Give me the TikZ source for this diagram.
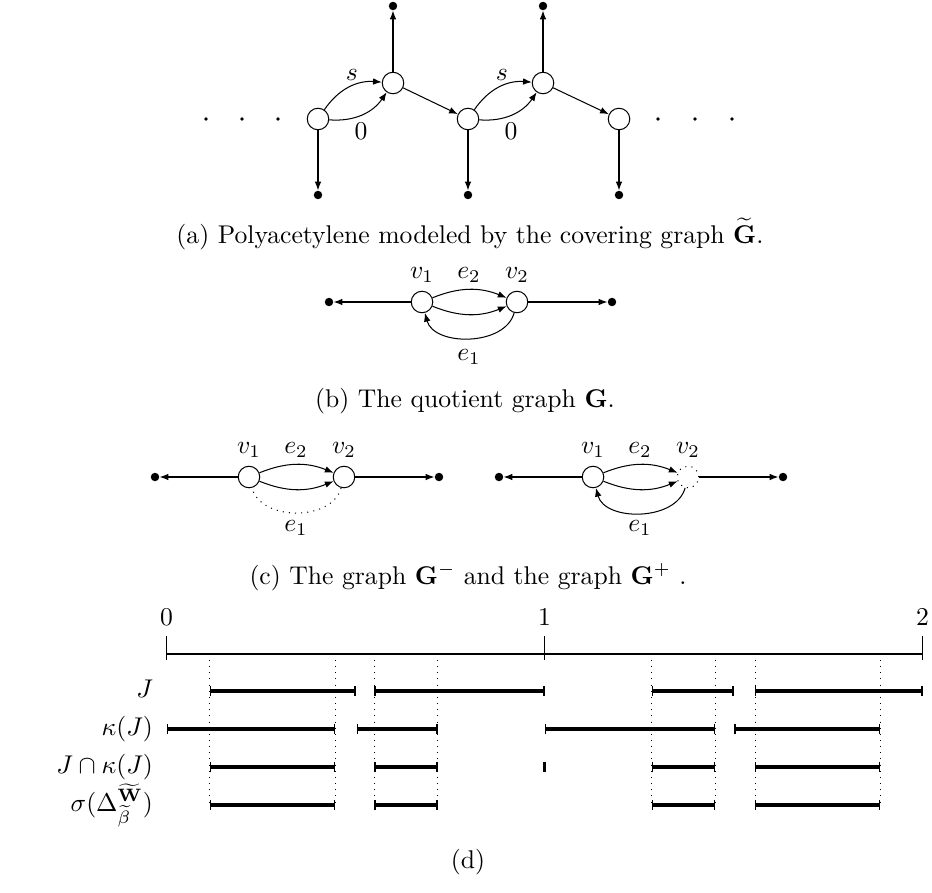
\documentclass[tikz,border=0pt]{standalone}
\usepackage{amsmath, amssymb}
\usepackage{tikz}
\usetikzlibrary{arrows.meta, positioning}
\tikzset{>={Latex[length=3.4pt,width=2.6pt]}}
\tikzset{
  vtx/.style={circle, draw, inner sep=0pt, minimum size=8.4pt},
  sink/.style={circle, fill, inner sep=0pt, minimum size=3.3pt},
  ivl/.style={line width=1.4pt, {Bar[width=4pt,line width=0.5pt]}-{Bar[width=4pt,line width=0.5pt]}},
}

\begin{document}
\begin{tikzpicture}[x=0.39pt, y=-0.39pt]
\useasboundingbox (0,0) rectangle (932,892);

% (a) covering graph
\foreach \i/\x in {1/318,2/468,3/619} {
    \node[vtx] (b\i) at (\x,119) {};
    \node[sink] (bd\i) at (\x,195) {};
    \draw[->] (b\i) -- (bd\i);
}
\foreach \i/\x in {1/393,2/543} {
    \node[vtx] (t\i) at (\x,83) {};
    \node[sink] (td\i) at (\x,6) {};
    \draw[->] (t\i) -- (td\i);
}
\foreach \i/\j in {1/2,2/3} {
    \draw[->] (b\i) to[bend left=30] (t\i);
    \draw[->] (b\i) to[bend right=30] (t\i);
    \draw[->] (t\i) -- (b\j);
}
\node (s1) at (352,75) {$s$};
\node (s2) at (502,75) {$s$};
\node (z1) at (361,131) {$0$};
\node (z2) at (511,131) {$0$};
\foreach \x in {206,242,278,658,695,732}
    \fill (\x,119) circle (0.7pt);
\node (capa) at (470,234) {(a) Polyacetylene modeled by the covering graph $\widetilde{\mathbf{G}}$.};

% (b) quotient graph
\node[sink] (bl) at (329,302) {};
\node[vtx] (bv1) at (422,302) {};
\node[vtx] (bv2) at (517,302) {};
\node[sink] (br) at (612,302) {};
\draw[->] (bv1) -- (bl);
\draw[->] (bv2) -- (br);
\draw[->] (bv1) to[bend left=22] (bv2);
\draw[->] (bv1) to[bend right=22] (bv2);
\draw[->] (bv2) to[out=-105,in=-75] (bv1);
\node (bv1l) at (422,275) {$v_1$};
\node (be2l) at (469,275) {$e_2$};
\node (bv2l) at (517,275) {$v_2$};
\node (be1l) at (469,357) {$e_1$};
\node (capb) at (465,401) {(b) The quotient graph $\mathbf{G}$.};

% (c) G minus and G plus
\node[sink] (ml) at (155,477) {};
\node[vtx] (mv1) at (249,477) {};
\node[vtx] (mv2) at (344,477) {};
\node[sink] (mr) at (439,477) {};
\draw[->] (mv1) -- (ml);
\draw[->] (mv2) -- (mr);
\draw[->] (mv1) to[bend left=22] (mv2);
\draw[->] (mv1) to[bend right=22] (mv2);
\draw[dotted] (mv2) to[out=-105,in=-75] (mv1);
\node (mv1l) at (249,450) {$v_1$};
\node (me2l) at (296,450) {$e_2$};
\node (mv2l) at (344,450) {$v_2$};
\node (me1l) at (296,528) {$e_1$};

\node[sink] (pl) at (499,477) {};
\node[vtx] (pv1) at (593,477) {};
\node[vtx, dotted] (pv2) at (688,477) {};
\node[sink] (pr) at (783,477) {};
\draw[->] (pv1) -- (pl);
\draw[->] (pv2) -- (pr);
\draw[->] (pv1) to[bend left=22] (pv2);
\draw[->] (pv1) to[bend right=22] (pv2);
\draw[->] (pv2) to[out=-105,in=-75] (pv1);
\node (pv1l) at (593,450) {$v_1$};
\node (pe2l) at (640,450) {$e_2$};
\node (pv2l) at (688,450) {$v_2$};
\node (pe1l) at (640,528) {$e_1$};
\node (capc) at (468,577) {(c) The graph $\mathbf{G}^-$ and the graph $\mathbf{G}^+$ .};

% (d) intervals
\node[anchor=base east] (rj) at (162,697) {$J$};
\node[anchor=base east] (rk) at (162,735) {$\kappa(J)$};
\node[anchor=base east] (rjk) at (162,773) {$J\cap\kappa(J)$};
\node[anchor=base east] (rs) at (162,811) {$\sigma(\Delta^{\widetilde{\mathbf{W}}}_{\widetilde{\beta}})$};
\begin{scope}[shift={(166.5,0)}, x=147.42pt]
\draw (0,654) -- (2,654);
\foreach \v in {0,1,2} {
    \draw (\v,636) -- (\v,660);
    \node (lab\v) at (\v,617) {$\v$};
}
\foreach \v in {0.115,0.447,0.55,0.717,1.284,1.452,1.557,1.888}
    \draw[dotted] (\v,660) -- (\v,806);
\foreach \a/\b in {0.115/0.5, 0.55/1, 1.284/1.5, 1.557/2}
    \draw[ivl] (\a,691) -- (\b,691);
\foreach \a/\b in {0/0.447, 0.503/0.717, 1/1.452, 1.502/1.888}
    \draw[ivl] (\a,729) -- (\b,729);
\foreach \a/\b in {0.115/0.447, 0.55/0.717, 1.284/1.452, 1.557/1.888} {
    \draw[ivl] (\a,767) -- (\b,767);
    \draw[ivl] (\a,805) -- (\b,805);
}
\draw[line width=0.8pt] (1,762) -- (1,772);
\end{scope}
\node (capd) at (468,862) {(d)};
\end{tikzpicture}
\end{document}
